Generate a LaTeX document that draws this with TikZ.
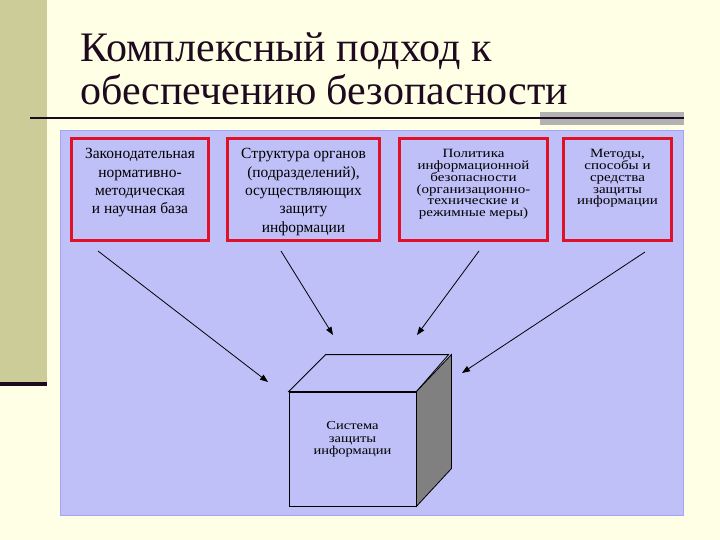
\documentclass[tikz,border=0pt]{standalone}
\usepackage{fontspec}
\setmainfont{Liberation Serif}
\usetikzlibrary{positioning,arrows.meta}

\definecolor{cream}{RGB}{255,255,230}
\definecolor{olive}{RGB}{204,204,153}
\definecolor{panel}{RGB}{192,192,248}
\definecolor{boxred}{RGB}{224,16,40}
\definecolor{titleink}{RGB}{30,10,30}
\definecolor{cubeside}{RGB}{128,128,128}

\tikzset{
  redbox/.style={draw=boxred, line width=3pt, fill=panel, inner sep=0pt},
  boxtext/.style={align=center, inner sep=0pt, font=\fontsize{15.5}{18.3}\selectfont},
  tighttext/.style={align=center, inner sep=0pt, yscale=0.84, transform shape,
                    font=\fontsize{15}{14}\selectfont},
  feed/.style={-{Triangle[length=8pt,width=6pt]}, line width=0.8pt},
}

\begin{document}
\begin{tikzpicture}[x=1pt, y=-1pt]
    \useasboundingbox (0,0) rectangle (720,540);

    % Draw the slide background
    \fill[cream] (0,0) rectangle (720,540);
    \fill[olive] (0,0) rectangle (47,382);
    \fill[titleink] (0,382) rectangle (47,386);

    % Title
    \node[anchor=base west, inner sep=0pt, align=left, text=titleink,
          font=\fontsize{42}{43}\selectfont] (title) at (80,105)
        {Комплексный подход к\\обеспечению безопасности};

    % Rule under the title
    \fill[black!30] (540,112) rectangle (684,125);
    \draw[line width=2pt, titleink] (30,118) -- (684,118);

    % Blue panel
    \filldraw[fill=panel, draw=panel!85!blue] (60,130) rectangle (683,515);

    % Four red boxes
    \node[redbox, minimum width=137, minimum height=102] (law) at (140,189.5) {};
    \node[redbox, minimum width=152, minimum height=102] (organs) at (303.5,189.5) {};
    \node[redbox, minimum width=148, minimum height=102] (policy) at (473.5,189.5) {};
    \node[redbox, minimum width=108, minimum height=102] (methods) at (617.5,189.5) {};

    \node[boxtext, below=11.5pt of law.north] (lawtxt)
        {Законодательная\\нормативно-\\методическая\\и научная база};
    \node[boxtext, below=11.5pt of organs.north] (organstxt)
        {Структура органов\\(подразделений),\\осуществляющих\\защиту\\информации};
    \node[tighttext, below=12.5pt of policy.north] (policytxt)
        {Политика\\информационной\\безопасности\\(организационно-\\технические и\\режимные меры)};
    \node[tighttext, below=12.5pt of methods.north] (methodstxt)
        {Методы,\\способы и\\средства\\защиты\\информации};

    % The cube
    \node[draw, fill=panel, line width=0.8pt, minimum width=127, minimum height=114,
          inner sep=0pt] (system) at (352.5,449) {};
    \filldraw[fill=panel, line width=0.8pt] (system.north west) -- ++(37,-37)
        -- ++(123,0) -- (system.north east) -- cycle;
    \filldraw[fill=cubeside, line width=0.8pt] (system.north east) -- ++(35,-37)
        -- ++(0,114) -- (system.south east) -- cycle;
    \node[tighttext, font=\fontsize{14.5}{14.8}\selectfont, below=30pt of system.north] (systxt)
        {Система\\защиты\\информации};

    % Arrow ends
    \coordinate (lawfoot) at (98,251);
    \coordinate (organsfoot) at (281,251);
    \coordinate (policyfoot) at (479,251);
    \coordinate (methodsfoot) at (645,252);
    \coordinate (lawtip) at (268,382);
    \coordinate (organstip) at (333,335);
    \coordinate (policytip) at (417,335);
    \coordinate (methodstip) at (462,373);

    % Arrows into the cube
    \draw[feed] (lawfoot) -- (lawtip);
    \draw[feed] (organsfoot) -- (organstip);
    \draw[feed] (policyfoot) -- (policytip);
    \draw[feed] (methodsfoot) -- (methodstip);
\end{tikzpicture}
\end{document}
